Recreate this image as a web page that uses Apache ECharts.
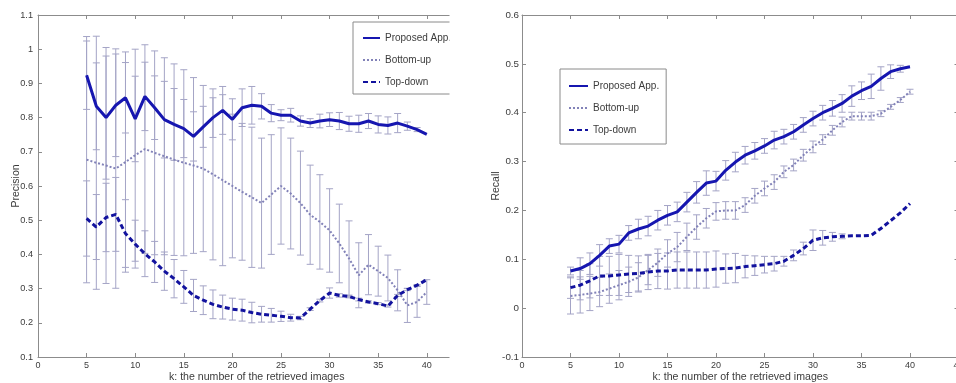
<!DOCTYPE html>
<html>
<head>
<meta charset="utf-8">
<script src="https://cdn.jsdelivr.net/npm/echarts@6/dist/echarts.min.js"></script>
<style>
html,body{margin:0;padding:0;background:#fff;}
#chart{width:956px;height:383px;}
</style>
</head>
<body>
<div id="chart"></div>
<script>
// ---------------- data ----------------
const kValues = [5,6,7,8,9,10,11,12,13,14,15,16,17,18,19,20,21,22,23,24,25,26,27,28,29,30,31,32,33,34,35,36,37,38,39,40];
const seriesNames = ['Proposed App.', 'Bottom-up', 'Top-down'];

// Precision (left panel)
const precProposed    = [0.924,0.833,0.800,0.836,0.858,0.796,0.862,0.829,0.794,0.780,0.768,0.745,0.773,0.800,0.821,0.795,0.829,0.836,0.833,0.813,0.807,0.807,0.790,0.784,0.790,0.794,0.790,0.782,0.782,0.790,0.780,0.777,0.784,0.775,0.765,0.751];
const precProposedErr = [0.100,0.127,0.180,0.150,0.103,0.125,0.100,0.093,0.112,0.105,0.085,0.072,0.060,0.058,0.070,0.060,0.055,0.055,0.037,0.025,0.016,0.020,0.015,0.013,0.020,0.020,0.025,0.022,0.025,0.022,0.025,0.025,0.028,0.012,0.006,0.000];
const precBottomUp    = [0.677,0.668,0.660,0.651,0.670,0.690,0.708,0.697,0.687,0.677,0.668,0.660,0.651,0.634,0.617,0.600,0.583,0.567,0.550,0.575,0.600,0.578,0.550,0.516,0.495,0.470,0.432,0.388,0.339,0.370,0.351,0.331,0.295,0.251,0.261,0.290];
const precBottomUpErr = [0.360,0.370,0.345,0.350,0.322,0.310,0.305,0.298,0.288,0.280,0.272,0.257,0.243,0.250,0.250,0.210,0.200,0.205,0.190,0.175,0.170,0.162,0.152,0.145,0.138,0.122,0.115,0.110,0.095,0.088,0.073,0.067,0.060,0.050,0.045,0.036];
const precTopDown     = [0.505,0.480,0.508,0.517,0.461,0.430,0.402,0.378,0.351,0.329,0.305,0.280,0.266,0.254,0.246,0.240,0.237,0.230,0.225,0.222,0.219,0.215,0.214,0.240,0.265,0.287,0.280,0.277,0.268,0.261,0.256,0.249,0.280,0.297,0.310,0.326];
const precTopDownErr  = [0.110,0.095,0.100,0.108,0.099,0.070,0.067,0.060,0.056,0.056,0.048,0.047,0.042,0.042,0.035,0.032,0.032,0.030,0.023,0.020,0.015,0.010,0.005,0.004,0.004,0.015,0.005,0.004,0.004,0.003,0.003,0.003,0.003,0.003,0.002,0.000];

// Recall (right panel)
const recProposed     = [0.076,0.081,0.091,0.108,0.127,0.131,0.154,0.162,0.168,0.180,0.190,0.197,0.217,0.237,0.256,0.260,0.282,0.299,0.313,0.322,0.332,0.344,0.351,0.361,0.375,0.388,0.400,0.409,0.419,0.434,0.445,0.454,0.470,0.484,0.490,0.494];
const recProposedErr  = [0.008,0.022,0.022,0.022,0.015,0.018,0.015,0.020,0.020,0.020,0.020,0.020,0.020,0.022,0.025,0.020,0.020,0.020,0.018,0.017,0.015,0.018,0.015,0.015,0.015,0.015,0.015,0.016,0.018,0.021,0.018,0.025,0.024,0.014,0.007,0.000];
const recBottomUp     = [0.025,0.027,0.030,0.033,0.040,0.047,0.054,0.063,0.078,0.093,0.112,0.125,0.146,0.166,0.184,0.198,0.200,0.200,0.211,0.230,0.245,0.258,0.279,0.293,0.313,0.330,0.345,0.364,0.381,0.393,0.393,0.393,0.398,0.412,0.426,0.443];
const recBottomUpErr  = [0.037,0.037,0.035,0.030,0.030,0.030,0.030,0.030,0.030,0.028,0.028,0.030,0.028,0.025,0.020,0.018,0.018,0.018,0.015,0.015,0.015,0.015,0.012,0.012,0.012,0.012,0.010,0.010,0.010,0.008,0.008,0.008,0.006,0.005,0.005,0.005];
const recTopDown      = [0.042,0.047,0.056,0.066,0.066,0.068,0.070,0.071,0.074,0.076,0.076,0.078,0.078,0.078,0.078,0.080,0.081,0.082,0.085,0.087,0.089,0.091,0.096,0.108,0.122,0.139,0.144,0.146,0.147,0.148,0.148,0.149,0.163,0.179,0.195,0.214];
const recTopDownErr   = [0.022,0.030,0.035,0.040,0.040,0.042,0.038,0.036,0.036,0.036,0.037,0.037,0.037,0.037,0.037,0.037,0.030,0.030,0.023,0.020,0.017,0.015,0.010,0.011,0.013,0.021,0.015,0.009,0.005,0.000,0.000,0.000,0.000,0.000,0.000,0.000];

const xTitle = 'k: the number of the retrieved images';
const leftYTitle = 'Precision';
const rightYTitle = 'Recall';

// ---------------- styles ----------------
const FONT = '"Liberation Sans", Arial, Helvetica, sans-serif';
const AXIS_COLOR = '#8c8c8c';
const TEXT_COLOR = '#3c3c3c';
const ERR_COLOR = '#a4a4c6';
const lineStyles = {
  'Proposed App.': {color: '#1616b0', width: 3, type: 'solid'},
  'Bottom-up':     {color: '#8282b8', width: 2, type: [2, 2]},
  'Top-down':      {color: '#12129e', width: 3, type: [5, 3]}
};

function pairs(c) { return kValues.map((k, i) => [k, c[i]]); }
function bars(c, e) { return kValues.map((k, i) => [k, c[i] - e[i], c[i] + e[i]]); }

function errRender(params, api) {
  const x = api.value(0), lo = api.value(1), hi = api.value(2);
  if (!(hi - lo > 0)) return {type: 'group', children: []};
  const pLo = api.coord([x, lo]);
  const pHi = api.coord([x, hi]);
  const w = 3.5;
  const st = {stroke: ERR_COLOR, lineWidth: 1, fill: null};
  return {type: 'group', children: [
    {type: 'line', shape: {x1: pLo[0], y1: pLo[1], x2: pHi[0], y2: pHi[1]}, style: st},
    {type: 'line', shape: {x1: pLo[0] - w, y1: pLo[1], x2: pLo[0] + w, y2: pLo[1]}, style: st},
    {type: 'line', shape: {x1: pHi[0] - w, y1: pHi[1], x2: pHi[0] + w, y2: pHi[1]}, style: st}
  ]};
}

function errSeries(name, c, e, xi, yi) {
  return {type: 'custom', name: name + ' err', xAxisIndex: xi, yAxisIndex: yi,
    renderItem: errRender, data: bars(c, e), encode: {x: 0, y: [1, 2]}, z: 1, silent: true, clip: false};
}
function lineSeries(name, c, xi, yi) {
  const ls = lineStyles[name];
  return {type: 'line', name: name, xAxisIndex: xi, yAxisIndex: yi, data: pairs(c),
    symbol: 'none', showSymbol: false, z: 3,
    lineStyle: {color: ls.color, width: ls.width, type: ls.type},
    itemStyle: {color: ls.color}};
}

function xAxisPair(gi, fontSize) {
  const common = {gridIndex: gi, type: 'value', min: 0, max: 45, interval: 5,
    axisLine: {onZero: false, lineStyle: {color: AXIS_COLOR, width: 1}},
    axisTick: {inside: true, length: 4, lineStyle: {color: AXIS_COLOR}},
    splitLine: {show: false}};
  return [
    Object.assign({}, common, {position: 'bottom',
      axisLabel: {margin: 4, fontSize: fontSize, color: TEXT_COLOR, fontFamily: FONT},
      name: xTitle, nameLocation: 'middle', nameGap: 15, nameMoveOverlap: false,
      nameTextStyle: {fontSize: 10.6, color: TEXT_COLOR, fontFamily: FONT}}),
    Object.assign({}, common, {position: 'top', axisLabel: {show: false}})
  ];
}
function yAxisPair(gi, min, max, title, margin, nameGap, fontSize) {
  const common = {gridIndex: gi, type: 'value', min: min, max: max, interval: 0.1,
    axisLine: {onZero: false, lineStyle: {color: AXIS_COLOR, width: 1}},
    axisTick: {inside: true, length: 4, lineStyle: {color: AXIS_COLOR}},
    splitLine: {show: false}};
  return [
    Object.assign({}, common, {position: 'left',
      axisLabel: {margin: margin, fontSize: fontSize, color: TEXT_COLOR, fontFamily: FONT,
        formatter: v => String(Math.round(v * 10) / 10)},
      name: title, nameLocation: 'middle', nameGap: nameGap, nameMoveOverlap: false,
      nameTextStyle: {fontSize: 10.5, color: TEXT_COLOR, fontFamily: FONT}}),
    Object.assign({}, common, {position: 'right', axisLabel: {show: false}})
  ];
}

const legendCommon = {data: seriesNames, orient: 'vertical', itemHeight: 12, itemGap: 12,
  borderColor: '#8a8a8a', borderWidth: 1, backgroundColor: '#ffffff', selectedMode: false,
  itemStyle: {opacity: 0},
  textStyle: {fontSize: 10, color: TEXT_COLOR, fontFamily: FONT}};

const option = {
  backgroundColor: '#ffffff',
  animation: false,
  grid: [
    {left: 38, top: 15, width: 437.4, height: 342, outerBoundsMode: 'none', containLabel: false},
    {left: 522, top: 15, width: 436.5, height: 342, outerBoundsMode: 'none', containLabel: false}
  ],
  xAxis: [].concat(xAxisPair(0, 9), xAxisPair(1, 9)),
  yAxis: [].concat(yAxisPair(0, 0.1, 1.1, leftYTitle, 5, 16, 9.2),
                   yAxisPair(1, -0.1, 0.6, rightYTitle, 3, 20, 9.8)),
  legend: [
    Object.assign({}, legendCommon, {left: 353, top: 22, padding: [11, 8, 7, 9], itemWidth: 17}),
    Object.assign({}, legendCommon, {left: 560, top: 69, padding: [12, 7, 9, 8], itemWidth: 19})
  ],
  series: [
    errSeries('Proposed App.', precProposed, precProposedErr, 0, 0),
    errSeries('Bottom-up', precBottomUp, precBottomUpErr, 0, 0),
    errSeries('Top-down', precTopDown, precTopDownErr, 0, 0),
    lineSeries('Proposed App.', precProposed, 0, 0),
    lineSeries('Bottom-up', precBottomUp, 0, 0),
    lineSeries('Top-down', precTopDown, 0, 0),
    errSeries('Proposed App.', recProposed, recProposedErr, 2, 2),
    errSeries('Bottom-up', recBottomUp, recBottomUpErr, 2, 2),
    errSeries('Top-down', recTopDown, recTopDownErr, 2, 2),
    lineSeries('Proposed App.', recProposed, 2, 2),
    lineSeries('Bottom-up', recBottomUp, 2, 2),
    lineSeries('Top-down', recTopDown, 2, 2)
  ],
  // the reference picture is cropped just right of the left panel
  graphic: [
    {type: 'rect', shape: {x: 449.5, y: 0, width: 37, height: 383}, style: {fill: '#ffffff'}, z: 100, silent: true}
  ]
};

const chart = echarts.init(document.getElementById('chart'), null, {renderer: 'canvas'});
chart.setOption(option);
</script>
</body>
</html>
